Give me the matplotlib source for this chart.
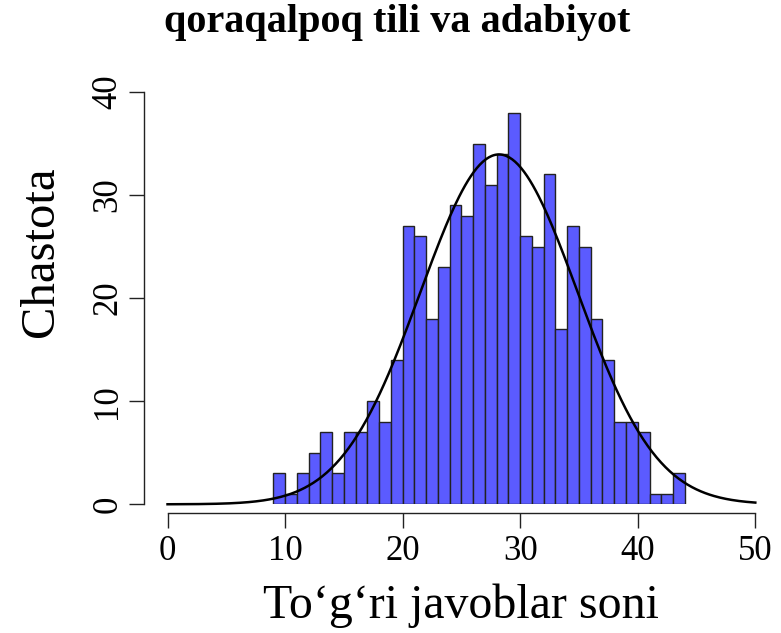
import numpy as np
import matplotlib
matplotlib.use("Agg")
import matplotlib.pyplot as plt

# histogram of correct answers, bins of width 1
bin_left = np.arange(9, 44)
counts = [3, 1, 3, 5, 7, 3, 7, 7, 10, 8, 14,
          27, 26, 18, 23, 29, 28, 35, 31, 34, 38,
          26, 25, 32, 17, 27, 25, 18, 14, 8, 8, 7, 1, 1, 3]

title = "qoraqalpoq tili va adabiyot"
xlabel = "To\u2018g\u2018ri javoblar soni"
ylabel = "Chastota"
xticks = [0, 10, 20, 30, 40, 50]
yticks = [0, 10, 20, 30, 40]

plt.rcParams['font.family'] = ['Liberation Serif', 'DejaVu Serif']

counts = np.array(counts)
# integer scores fall in right-closed bins, so value = right edge
values = bin_left + 1
n = counts.sum()
mu = np.sum(values * counts) / n
sd = np.sqrt(np.sum(counts * (values - mu) ** 2) / (n - 1))

fig = plt.figure(figsize=(7.81, 6.33), dpi=100)
ax = fig.add_axes([0.2145, 0.2033, 0.7526, 0.6513])

ax.bar(bin_left, counts, width=1.0, align='edge', color='#5b5bff',
       edgecolor='#222222', linewidth=1.0)

xs = np.linspace(0, 50, 400)
ys = n * np.exp(-0.5 * ((xs - mu) / sd) ** 2) / (sd * np.sqrt(2 * np.pi))
ax.plot(xs, ys, color='black', linewidth=1.8, clip_on=False)

ax.set_xlim(0, 50)
ax.set_ylim(0, 40)
for s in ['top', 'right']:
    ax.spines[s].set_visible(False)
ax.spines['left'].set_position(('outward', 16.7))
ax.spines['bottom'].set_position(('outward', 6.6))
ax.spines['left'].set_bounds(0, 40)
ax.spines['bottom'].set_bounds(0, 50)
for s in ['left', 'bottom']:
    ax.spines[s].set_linewidth(1.0)
    ax.spines[s].set_color('#222222')

ax.set_xticks(xticks)
ax.set_yticks(yticks)
ax.tick_params(axis='both', length=10.5, width=1.0, color='#222222',
               labelsize=25, pad=5)
ax.tick_params(axis='y', pad=4)
for lab in ax.get_yticklabels():
    lab.set_rotation(90)
    lab.set_va('center')

ax.set_xlabel(xlabel, fontsize=34.5, labelpad=11.5)
ax.set_ylabel(ylabel, fontsize=35)
ax.yaxis.set_label_coords(-0.178, 0.612)
fig.text(0.508, 0.965, title, ha='center', va='center',
         fontsize=29, fontweight='bold')

fig.savefig('out.png', dpi=100)
